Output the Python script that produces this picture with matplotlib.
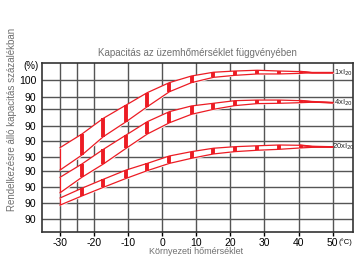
import matplotlib.pyplot as plt
import numpy as np

# adatok
temp = [-30, -23.6, -17.3, -10.6, -4.4, 2.1, 8.6, 15.0, 21.3, 27.9, 34.3, 40.6, 44, 50]
bar_idx = list(range(1, 12))  # a vastag piros jelek helye

upper_1x = [56.2, 65.0, 75.2, 83.8, 91.8, 98.3, 102.6, 105.0, 105.8, 106.3, 105.8, 105.4, 104.7, 104.7]
lower_1x = [41.7, 51.4, 63.3, 73.0, 82.7, 92.4, 98.3, 101.7, 103.0, 103.9, 103.9, 104.3, 104.7, 104.7]
upper_4x = [37.0, 45.6, 55.1, 64.4, 73.0, 79.5, 83.2, 84.9, 86.6, 87.0, 87.0, 86.6, 85.9, 85.3]
lower_4x = [27.0, 37.0, 45.6, 55.8, 65.0, 72.3, 77.8, 81.0, 83.4, 84.7, 84.9, 85.3, 85.6, 85.3]
upper_20x = [23.6, 29.9, 35.7, 41.7, 46.0, 50.8, 53.6, 55.8, 56.8, 57.4, 57.9, 57.7, 56.9, 56.6]
lower_20x = [19.0, 24.9, 30.5, 36.3, 41.3, 46.0, 49.3, 52.1, 53.6, 54.5, 55.1, 56.0, 56.4, 56.6]

band_names = ['1xI$_{20}$', '4xI$_{20}$', '20xI$_{20}$']

x_ticks = [-30, -20, -10, 0, 10, 20, 30, 40, 50]
x_grid = [-30, -25, -20, -10, 0, 10, 20, 30, 40, 50]
y_grid = [100, 89.2, 81.0, 70.4, 60.3, 49.9, 41.3, 30.9, 20.1, 9.8]
y_labels = ['100', '90', '90', '90', '90', '90', '90', '90', '90', '90']

red = '#ec1c24'
gray_txt = '#707070'
narrow = ['Liberation Sans Narrow', 'Liberation Sans', 'DejaVu Sans']

fig = plt.figure(figsize=(3.55, 2.57), dpi=100)
ax = fig.add_axes([0.1175, 0.0984, 0.8765, 0.6553])

for gx in x_grid:
    ax.axvline(gx, color='#555555', lw=1.0, zorder=1)
for gy in y_grid:
    ax.axhline(gy, color='#555555', lw=1.0, zorder=1)

bands = [(upper_1x, lower_1x), (upper_4x, lower_4x), (upper_20x, lower_20x)]
for (up, lo), name in zip(bands, band_names):
    up = np.array(up)
    lo = np.array(lo)
    t = np.array(temp)
    ax.fill_between(t, lo, up, color='white', zorder=2)
    ax.plot(t, up, color=red, lw=0.9, zorder=3)
    ax.plot(t, lo, color=red, lw=0.9, zorder=3)
    ax.plot(t[-3:], up[-3:], color=red, lw=1.3, zorder=3)
    ax.vlines(t[bar_idx], lo[bar_idx], up[bar_idx], color=red, lw=2.8, zorder=4)
    ax.vlines(t[0], lo[0], up[0], color=red, lw=0.9, zorder=3)
    ax.text(53.3, up[-1], name, fontsize=5.5, ha='center', va='center',
            family=narrow, color='#222222', zorder=5)

ax.set_xlim(-35.4, 55.95)
ax.set_ylim(1.75, 110.8)
ax.set_xticks(x_ticks)
ax.set_xticklabels([str(v) for v in x_ticks], family=narrow, fontsize=7.5)
ax.set_yticks(y_grid)
ax.set_yticklabels(y_labels, family=narrow, fontsize=7.5)
ax.tick_params(axis='x', length=3, width=1, pad=1.5)
ax.tick_params(axis='y', length=0, pad=4)
for s in ax.spines.values():
    s.set_color('#333333')
    s.set_linewidth(1.2)
    s.set_zorder(6)

ax.text(-36.3, 109.2, '(%)', fontsize=7, family=narrow, ha='right', va='center')
ax.text(55.9, -5.2, '(°C)', fontsize=5.5, family=narrow, ha='right', va='center',
        clip_on=False)

fig.text(0.557, 0.795, 'Kapacitás az üzemhőmérséklet függvényében', fontsize=7,
         color=gray_txt, ha='center', va='center', family=['Liberation Sans', 'DejaVu Sans'])
fig.text(0.034, 0.535, 'Rendelkezésre álló kapacitás százalékban', fontsize=7,
         color=gray_txt, ha='center', va='center', rotation=90,
         family=['Liberation Sans', 'DejaVu Sans'])
fig.text(0.552, 0.004, 'Környezeti hőmérséklet', fontsize=6.5, color=gray_txt,
         ha='center', va='bottom', family=['Liberation Sans', 'DejaVu Sans'])

plt.savefig('out.png', dpi=100)
